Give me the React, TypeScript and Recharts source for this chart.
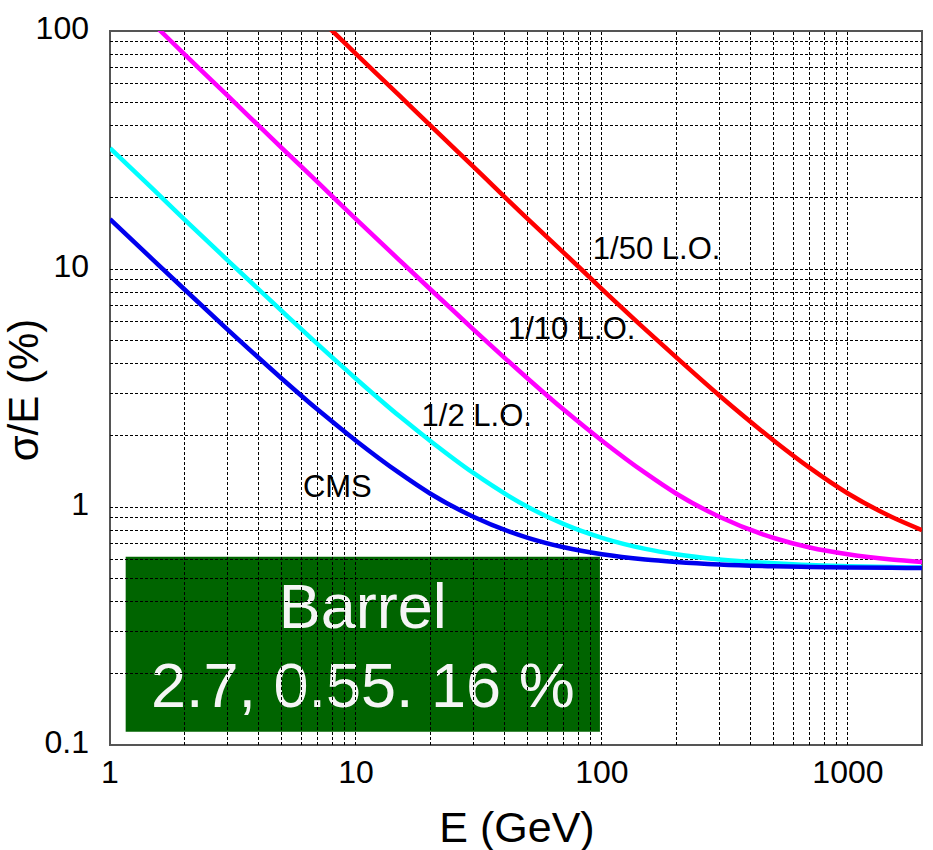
import React from "react";
import {
  LineChart,
  Line,
  XAxis,
  YAxis,
  ReferenceLine,
  ReferenceArea,
  ReferenceDot,
  Label,
} from "recharts";

// beam energy in GeV
const energies = [1, 1.5, 2, 3, 5, 7, 10, 15, 20, 30, 50, 70, 100, 150, 200, 300, 500, 700, 1000, 1500, 2000];

// sigma/E in %
const cms = [16.2, 10.9, 8.24, 5.58, 3.46, 2.56, 1.9, 1.39, 1.14, 0.91, 0.742, 0.677, 0.633, 0.602, 0.588, 0.574, 0.564, 0.56, 0.557, 0.555, 0.554];
const halfLO = [32.2, 21.6, 16.2, 10.9, 6.65, 4.82, 3.46, 2.41, 1.9, 1.39, 1.0, 0.847, 0.742, 0.667, 0.633, 0.602, 0.58, 0.57, 0.564, 0.559, 0.557];
const tenthLO = [160, 107, 80.2, 53.6, 32.2, 23.1, 16.2, 10.9, 8.24, 5.58, 3.46, 2.56, 1.9, 1.39, 1.14, 0.91, 0.741, 0.676, 0.633, 0.602, 0.588];
const fiftiethLO = [800, 534, 400, 267, 160, 114.5, 80.2, 53.6, 40.2, 26.9, 16.2, 11.7, 8.24, 5.58, 4.26, 2.94, 1.9, 1.46, 1.14, 0.91, 0.8];

const xTicks = [1, 10, 100, 1000];
const yTicks = [0.1, 1, 10, 100];
const xGrid = [2, 3, 4, 5, 6, 7, 8, 9, 10, 20, 30, 40, 50, 60, 70, 80, 90, 100, 200, 300, 400, 500, 600, 700, 800, 900, 1000];
const yGrid = [0.2, 0.3, 0.4, 0.5, 0.6, 0.7, 0.8, 0.9, 1, 2, 3, 4, 5, 6, 7, 8, 9, 10, 20, 30, 40, 50, 60, 70, 80, 90];

const curveLabels = [
  { text: "1/50 L.O.", e: 91.9, s: 11.0 },
  { text: "1/10 L.O.", e: 41.5, s: 5.08 },
  { text: "1/2 L.O.", e: 18.5, s: 2.19 },
  { text: "CMS", e: 6.09, s: 1.1 },
];

const data = energies.map((e, i) => ({
  e,
  cms: cms[i],
  half: halfLO[i],
  tenth: tenthLO[i],
  fiftieth: fiftiethLO[i],
}));

const FONT = "'Liberation Sans', Arial, Helvetica, sans-serif";

const XTick = (props: any) => (
  <text x={props.x} y={props.y + 38} textAnchor="middle" fontSize={32} fontFamily={FONT} fill="#000">
    {props.payload.value}
  </text>
);

const YTick = (props: any) => (
  <text x={props.x - 21} y={props.y + 8} textAnchor="end" fontSize={32} fontFamily={FONT} fill="#000">
    {props.payload.value}
  </text>
);

export default function App() {
  return (
    <div style={{ position: "absolute", left: 0, top: 0, background: "#fff" }}>
      <LineChart
        width={933}
        height={850}
        data={data}
        margin={{ top: 31, right: 11, bottom: 45, left: 30 }}
      >
        <XAxis
          dataKey="e"
          type="number"
          scale="log"
          domain={[1, 2000]}
          allowDataOverflow
          ticks={xTicks}
          tick={<XTick />}
          tickLine={false}
          axisLine={false}
          tickSize={0}
          tickMargin={0}
          height={60}
          interval={0}
        >
          <Label
            content={(p: any) => (
              <text
                x={p.viewBox.x + p.viewBox.width / 2 + 1}
                y={p.viewBox.y + 97}
                textAnchor="middle"
                fontSize={43}
                fontFamily={FONT}
                fill="#000"
              >
                E (GeV)
              </text>
            )}
          />
        </XAxis>
        <YAxis
          type="number"
          scale="log"
          domain={[0.1, 100]}
          allowDataOverflow
          ticks={yTicks}
          tick={<YTick />}
          tickLine={false}
          axisLine={false}
          tickSize={0}
          tickMargin={0}
          width={80}
          interval={0}
        >
          <Label
            content={() => (
              <text
                x={38}
                y={390}
                transform="rotate(-90 38 390)"
                textAnchor="middle"
                fontSize={42}
                fontFamily={FONT}
                fill="#000"
              >
                σ/E (%)
              </text>
            )}
          />
        </YAxis>

        {xGrid.map((v) => (
          <ReferenceLine key={"gx" + v} x={v} stroke="#000" strokeWidth={1} strokeDasharray="3 2" shapeRendering="crispEdges" />
        ))}
        {yGrid.map((v) => (
          <ReferenceLine key={"gy" + v} y={v} stroke="#000" strokeWidth={1} strokeDasharray="3 2" shapeRendering="crispEdges" />
        ))}

        <ReferenceArea x1={1} x2={2000} y1={0.1} y2={100} fill="none" stroke="#555" strokeWidth={2} />

        <ReferenceArea
          x1={1.158}
          x2={98.1}
          y1={0.1138}
          y2={0.618}
          fill="#006400"
          fillOpacity={1}
          stroke="none"
          label={(p: any) => {
            const vb = p.viewBox;
            const cx = vb.x + vb.width / 2;
            return (
              <g>
                <text x={cx} y={vb.y + 71} textAnchor="middle" fontSize={63} fontFamily={FONT} fill="#f5f5f5">
                  Barrel
                </text>
                <text x={cx} y={vb.y + 150} textAnchor="middle" fontSize={63} fontFamily={FONT} fill="#f5f5f5">
                  2.7, 0.55. 16 %
                </text>
              </g>
            );
          }}
        />

        <Line dataKey="fiftieth" type="monotone" stroke="#ff0000" strokeWidth={4.5} dot={false} isAnimationActive={false} />
        <Line dataKey="tenth" type="monotone" stroke="#ff00ff" strokeWidth={4.5} dot={false} isAnimationActive={false} />
        <Line dataKey="half" type="monotone" stroke="#00ffff" strokeWidth={4.5} dot={false} isAnimationActive={false} />
        <Line dataKey="cms" type="monotone" stroke="#0000ee" strokeWidth={4.5} dot={false} isAnimationActive={false} />

        {curveLabels.map((l) => (
          <ReferenceDot
            key={l.text}
            x={l.e}
            y={l.s}
            r={0.1}
            fill="none"
            stroke="none"
            label={(p: any) => (
              <text x={p.viewBox.x} y={p.viewBox.y} fontSize={31} fontFamily={FONT} fill="#000">
                {l.text}
              </text>
            )}
          />
        ))}
      </LineChart>
    </div>
  );
}
